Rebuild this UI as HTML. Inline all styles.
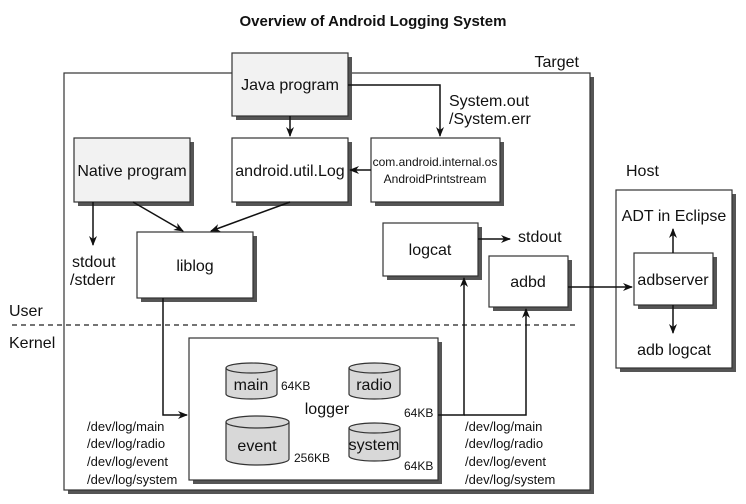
<!DOCTYPE html>
<html><head><meta charset="utf-8"><style>
html,body{margin:0;padding:0;background:#fff;}
svg{display:block;}
text{font-family:"Liberation Sans Narrow","Liberation Sans",sans-serif;fill:#111;}
</style></head><body>
<svg width="746" height="504" viewBox="0 0 746 504" xmlns="http://www.w3.org/2000/svg">
<defs>
<marker id="a" markerWidth="10" markerHeight="10" refX="9" refY="5" orient="auto" markerUnits="userSpaceOnUse">
<path d="M0,1 L10,5 L0,9 L3,5 Z" fill="#111"/>
</marker>
</defs>
<text x="373" y="26" font-size="15" font-weight="bold" text-anchor="middle">Overview of Android Logging System</text>

<!-- Target box -->
<rect x="68" y="77" width="526" height="417" fill="#555"/>
<rect x="64" y="73" width="526" height="417" fill="#fff" stroke="#333" stroke-width="1.2"/>
<text x="579" y="67" font-size="16" text-anchor="end">Target</text>

<!-- Host -->
<rect x="620" y="194" width="116" height="178" fill="#555"/>
<rect x="616" y="190" width="116" height="178" fill="#fff" stroke="#333" stroke-width="1.2"/>
<text x="626" y="176" font-size="16">Host</text>
<text x="674" y="221" font-size="16" text-anchor="middle">ADT in Eclipse</text>
<text x="674" y="355" font-size="16" text-anchor="middle">adb logcat</text>
<rect x="638" y="257" width="79" height="52" fill="#555"/>
<rect x="634" y="253" width="79" height="52" fill="#fff" stroke="#333" stroke-width="1.2"/>
<text x="673" y="285" font-size="16" text-anchor="middle">adbserver</text>
<line x1="673" y1="253" x2="673" y2="229" stroke="#111" stroke-width="1.5" marker-end="url(#a)"/>
<line x1="673" y1="305" x2="673" y2="333" stroke="#111" stroke-width="1.5" marker-end="url(#a)"/>

<!-- dashed -->
<line x1="12" y1="325" x2="575" y2="325" stroke="#222" stroke-width="1.3" stroke-dasharray="5,4"/>
<text x="9" y="316" font-size="16">User</text>
<text x="9" y="348" font-size="16">Kernel</text>

<!-- Java program -->
<rect x="236" y="57" width="116" height="63" fill="#555"/>
<rect x="232" y="53" width="116" height="63" fill="#f2f2f2" stroke="#333" stroke-width="1.2"/>
<text x="290" y="90" font-size="16" text-anchor="middle">Java program</text>

<!-- android.util.Log -->
<rect x="236" y="142" width="116" height="64" fill="#555"/>
<rect x="232" y="138" width="116" height="64" fill="#fff" stroke="#333" stroke-width="1.2"/>
<text x="290" y="176" font-size="16" text-anchor="middle">android.util.Log</text>

<!-- com.android -->
<rect x="375" y="142" width="129" height="64" fill="#555"/>
<rect x="371" y="138" width="129" height="64" fill="#fff" stroke="#333" stroke-width="1.2"/>
<text x="435" y="166" font-size="12" text-anchor="middle">com.android.internal.os</text>
<text x="435" y="183" font-size="12" text-anchor="middle">AndroidPrintstream</text>

<!-- Native -->
<rect x="78" y="142" width="116" height="64" fill="#555"/>
<rect x="74" y="138" width="116" height="64" fill="#f2f2f2" stroke="#333" stroke-width="1.2"/>
<text x="132" y="176" font-size="16" text-anchor="middle">Native program</text>

<!-- liblog -->
<rect x="141" y="236" width="116" height="66" fill="#555"/>
<rect x="137" y="232" width="116" height="66" fill="#fff" stroke="#333" stroke-width="1.2"/>
<text x="195" y="271" font-size="16" text-anchor="middle">liblog</text>

<!-- logcat -->
<rect x="387" y="227" width="95" height="53" fill="#555"/>
<rect x="383" y="223" width="95" height="53" fill="#fff" stroke="#333" stroke-width="1.2"/>
<text x="430" y="255" font-size="16" text-anchor="middle">logcat</text>
<text x="518" y="242" font-size="16">stdout</text>
<line x1="478" y1="239" x2="510" y2="239" stroke="#111" stroke-width="1.5" marker-end="url(#a)"/>

<!-- adbd -->
<rect x="493" y="260" width="79" height="51" fill="#555"/>
<rect x="489" y="256" width="79" height="51" fill="#fff" stroke="#333" stroke-width="1.2"/>
<text x="528" y="287" font-size="16" text-anchor="middle">adbd</text>
<line x1="568" y1="287" x2="632" y2="287" stroke="#111" stroke-width="1.5" marker-end="url(#a)"/>

<!-- arrows top -->
<line x1="290" y1="116" x2="290" y2="136" stroke="#111" stroke-width="1.5" marker-end="url(#a)"/>
<polyline points="348,85 440,85 440,136" fill="none" stroke="#111" stroke-width="1.5" marker-end="url(#a)"/>
<text x="449" y="106" font-size="16">System.out</text>
<text x="449" y="124" font-size="16">/System.err</text>
<line x1="371" y1="170" x2="350" y2="170" stroke="#111" stroke-width="1.5" marker-end="url(#a)"/>
<line x1="93" y1="202" x2="93" y2="245" stroke="#111" stroke-width="1.5" marker-end="url(#a)"/>
<text x="72" y="267" font-size="16">stdout</text>
<text x="70" y="285" font-size="16">/stderr</text>
<line x1="133" y1="202" x2="183" y2="231" stroke="#111" stroke-width="1.5" marker-end="url(#a)"/>
<line x1="290" y1="202" x2="211" y2="231" stroke="#111" stroke-width="1.5" marker-end="url(#a)"/>

<!-- logger -->
<rect x="193" y="342" width="249" height="142" fill="#555"/>
<rect x="189" y="338" width="249" height="142" fill="#fff" stroke="#333" stroke-width="1.2"/>
<polyline points="163,298 163,415 187,415" fill="none" stroke="#111" stroke-width="1.5" marker-end="url(#a)"/>
<polyline points="438,415 464,415 464,278" fill="none" stroke="#111" stroke-width="1.5" marker-end="url(#a)"/>
<polyline points="464,415 526,415 526,309" fill="none" stroke="#111" stroke-width="1.5" marker-end="url(#a)"/>

<!-- cylinders -->
<g stroke="#333" stroke-width="1.2" fill="#d8d8d8">
<path d="M226,368 v26 a25.5,5 0 0 0 51,0 v-26"/><ellipse cx="251.5" cy="368" rx="25.5" ry="5"/>
<path d="M349,368 v26 a25.5,5 0 0 0 51,0 v-26"/><ellipse cx="374.5" cy="368" rx="25.5" ry="5"/>
<path d="M226,422 v37 a31.5,6 0 0 0 63,0 v-37"/><ellipse cx="257.5" cy="422" rx="31.5" ry="6"/>
<path d="M349,428 v28 a25.5,5 0 0 0 51,0 v-28"/><ellipse cx="374.5" cy="428" rx="25.5" ry="5"/>
</g>
<text x="251" y="390" font-size="16" text-anchor="middle">main</text>
<text x="374" y="390" font-size="16" text-anchor="middle">radio</text>
<text x="257" y="451" font-size="16" text-anchor="middle">event</text>
<text x="374" y="450" font-size="16" text-anchor="middle">system</text>
<text x="281" y="390" font-size="12">64KB</text>
<text x="294" y="462" font-size="12">256KB</text>
<text x="404" y="417" font-size="12">64KB</text>
<text x="404" y="470" font-size="12">64KB</text>
<text x="327" y="414" font-size="16" text-anchor="middle">logger</text>

<g font-size="13">
<text x="87" y="431">/dev/log/main</text>
<text x="87" y="448">/dev/log/radio</text>
<text x="87" y="466">/dev/log/event</text>
<text x="87" y="484">/dev/log/system</text>
<text x="465" y="431">/dev/log/main</text>
<text x="465" y="448">/dev/log/radio</text>
<text x="465" y="466">/dev/log/event</text>
<text x="465" y="484">/dev/log/system</text>
</g>
</svg>
</body></html>
